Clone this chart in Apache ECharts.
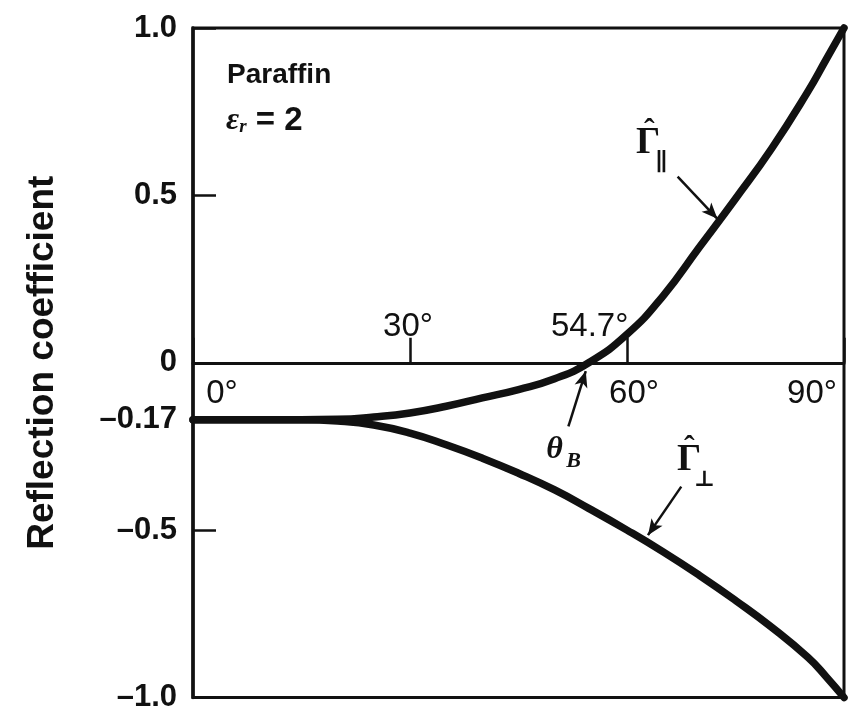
<!DOCTYPE html>
<html>
<head>
<meta charset="utf-8">
<script src="https://cdn.jsdelivr.net/npm/echarts@6/dist/echarts.min.js"></script>
<style>
  html, body { margin: 0; padding: 0; background: #fff; }
  #chart { width: 852px; height: 713px; }
</style>
</head>
<body>
<div id="chart"></div>
<script>
// Angle of incidence (degrees) at which each curve is sampled
const angles = [0, 5, 10, 15, 20, 25, 30, 35, 40, 45, 50, 54.7, 60, 65, 70, 75, 80, 85, 87.5, 90];
// Parallel-polarisation reflection coefficient
const gammaParallel = [-0.17, -0.17, -0.17, -0.17, -0.169, -0.162, -0.15, -0.13, -0.105, -0.08, -0.048, 0, 0.085, 0.2, 0.345, 0.49, 0.64, 0.81, 0.905, 1.0];
// Perpendicular-polarisation reflection coefficient
const gammaPerp = [-0.17, -0.17, -0.17, -0.17, -0.174, -0.186, -0.21, -0.245, -0.285, -0.33, -0.38, -0.435, -0.5, -0.565, -0.635, -0.71, -0.79, -0.88, -0.937, -1.0];

// Axis labels
const yTickValues = [-1, -0.5, -0.17, 0, 0.5, 1];
const yTickLabels = ['\u20131.0', '\u20130.5', '\u20130.17', '0', '0.5', '1.0'];
const xTickValues = [0, 30, 54.7, 60, 90];
const xTickLabels = ['0\u00b0', '30\u00b0', '54.7\u00b0', '60\u00b0', '90\u00b0'];

const INK = '#111';
const SANS = '"Liberation Sans", Arial, Helvetica, sans-serif';
const SERIF = '"Liberation Serif", "DejaVu Serif", "Times New Roman", serif';

const pairs = (xs, ys) => xs.map((x, i) => [x, ys[i]]);

// Where each angle label sits relative to the zero line (pixels)
const xLabelOffsets = {
  0:    [29, 31],
  30:   [-2, -36],
  54.7: [1, -36],
  60:   [7, 31],
  90:   [-32, 31]
};

// Curve annotations, placed in data coordinates
const annotationTexts = [
  { text: '\u02c6', at: [63.1, 0.69], size: 32, weight: 'bold', style: 'normal' },
  { text: '\u0393', at: [62.9, 0.655], size: 38, weight: 'bold', style: 'normal' },
  { text: '\u2225', at: [64.8, 0.594], size: 24, weight: 'bold', style: 'normal' },
  { text: '\u02c6', at: [68.6, -0.258], size: 32, weight: 'bold', style: 'normal' },
  { text: '\u0393', at: [68.6, -0.29], size: 38, weight: 'bold', style: 'normal' },
  { text: '\u22a5', at: [70.7, -0.35], size: 22, weight: 'bold', style: 'normal' },
  { text: '\u03b8', at: [50.0, -0.26], size: 32, weight: 'bold', style: 'italic' },
  { text: 'B', at: [52.6, -0.295], size: 22, weight: 'bold', style: 'italic' }
];

// Leader arrows: [tail, head]
const arrows = [
  [[67.0, 0.556], [72.5, 0.43]],
  [[67.5, -0.37], [62.9, -0.515]],
  [[51.9, -0.19], [54.3, -0.025]]
];

const chart = echarts.init(document.getElementById('chart'), null, { renderer: 'canvas' });

const curveStyle = { color: INK, width: 7.5, cap: 'round', join: 'round' };

const option = {
  backgroundColor: '#fff',
  animation: false,
  grid: {
    left: 193, right: 8, top: 28, bottom: 10,
    show: true, borderColor: INK, borderWidth: 3, backgroundColor: 'transparent'
  },
  xAxis: {
    type: 'value', min: 0, max: 90, interval: 30,
    axisLine: { show: true, onZero: true, lineStyle: { color: INK, width: 3 } },
    axisTick: { show: true, inside: true, length: 25, lineStyle: { color: INK, width: 2.5 } },
    axisLabel: { show: false },
    splitLine: { show: false }
  },
  yAxis: {
    type: 'value', min: -1, max: 1, interval: 0.5,
    name: 'Reflection coefficient',
    nameLocation: 'middle',
    nameGap: 132,
    nameTextStyle: { fontFamily: SANS, fontWeight: 'bold', fontSize: 37, color: INK },
    axisLine: { show: true, lineStyle: { color: INK, width: 3.5 } },
    axisTick: { show: true, inside: true, length: 23, lineStyle: { color: INK, width: 2.5 } },
    axisLabel: {
      margin: 16,
      fontFamily: SANS, fontWeight: 'bold', fontSize: 31, color: INK,
      customValues: yTickValues,
      formatter: v => {
        const i = yTickValues.findIndex(t => Math.abs(t - v) < 1e-6);
        return i >= 0 ? yTickLabels[i] : '';
      }
    },
    splitLine: { show: false }
  },
  graphic: [
    {
      type: 'text', left: 227, top: 61,
      style: { text: 'Paraffin', font: 'bold 28px ' + SANS, fill: INK }
    },
    {
      type: 'text', left: 226, top: 104,
      style: {
        text: '{e|\u03b5}{r|r}{t| = 2}',
        fill: INK,
        rich: {
          e: { font: 'italic bold 32px ' + SERIF, fill: INK, verticalAlign: 'bottom' },
          r: { font: 'italic bold 19px ' + SERIF, fill: INK, padding: [12, 0, 0, 0], verticalAlign: 'bottom' },
          t: { font: 'bold 33px ' + SANS, fill: INK, verticalAlign: 'bottom' }
        }
      }
    }
  ],
  series: [
    {
      name: 'parallel',
      type: 'line',
      data: pairs(angles, gammaParallel),
      smooth: 0.5,
      showSymbol: false,
      clip: false,
      lineStyle: curveStyle,
      z: 5,
      markLine: {
        silent: true,
        symbol: ['none', 'arrow'],
        symbolSize: [10, 16],
        label: { show: false },
        lineStyle: { color: INK, width: 2.5, type: 'solid' },
        data: arrows.map(([a, b]) => [{ coord: a }, { coord: b }])
      }
    },
    {
      name: 'perpendicular',
      type: 'line',
      data: pairs(angles, gammaPerp),
      smooth: 0.5,
      showSymbol: false,
      clip: false,
      lineStyle: curveStyle,
      z: 5
    },
    {
      name: 'angle labels',
      type: 'scatter',
      symbolSize: 0,
      silent: true,
      itemStyle: { opacity: 1 },
      z: 6,
      data: xTickValues.map((v, i) => ({
        value: [v, 0],
        label: {
          show: true,
          formatter: xTickLabels[i],
          offset: xLabelOffsets[v],
          position: 'inside',
          fontFamily: SANS, fontSize: 33, color: INK
        }
      }))
    },
    {
      name: 'annotations',
      type: 'scatter',
      symbolSize: 0,
      silent: true,
      itemStyle: { opacity: 1 },
      z: 6,
      data: annotationTexts.map(a => ({
        value: a.at,
        label: {
          show: true,
          position: 'inside',
          formatter: a.text,
          fontFamily: SERIF,
          fontSize: a.size,
          fontWeight: a.weight,
          fontStyle: a.style,
          color: INK
        }
      }))
    }
  ]
};

chart.setOption(option);
</script>
</body>
</html>
